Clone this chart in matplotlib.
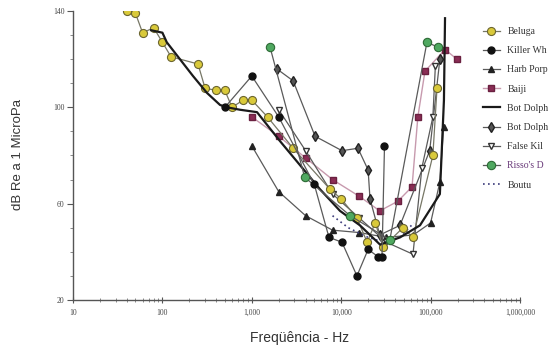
import numpy as np
import matplotlib
matplotlib.use("Agg")
import matplotlib.pyplot as plt
from matplotlib.ticker import FixedLocator, NullFormatter, LogLocator

# ── data ────────────────────────────────────────────────────────────────────

beluga_f = [40, 50, 60, 80, 100, 125, 250, 300, 400, 500, 600, 800, 1000,
            1500, 2900, 7500, 10000, 15000, 19500, 24000, 29500, 49000,
            63500, 106000, 118000]
beluga_db = [140, 139, 131, 133, 127, 121, 118, 108, 107, 107, 100, 103, 103,
             96, 83, 66, 62, 54, 44, 52, 42, 50, 46, 80, 108]

killer_f = [500, 1000, 2000, 5000, 7300, 10200, 15000, 20000, 25800, 28600,
            30500]
killer_db = [100, 113, 96, 68, 46, 44, 30, 41, 38, 38, 84]

porpoise_f = [1000, 2000, 4000, 8000, 16000, 32000, 64000, 100000, 127000,
              140000]
porpoise_db = [84, 65, 55, 49, 48, 46, 47, 52, 69, 92]

baiji_f = [1000, 2000, 4000, 8000, 16000, 27000, 43000, 62000, 72000, 86500,
           145000, 197000]
baiji_db = [96, 88, 79, 70, 63, 57, 61, 67, 96, 115, 124, 120]

botdolph_f = [75, 100, 112, 157, 220, 315, 441, 528, 738, 1143, 2065, 3460,
              5790, 9700, 16200, 27200, 45500, 76100, 127000, 141000, 145000]
botdolph_db = [132, 131, 127, 120, 113, 106, 101, 100, 99, 98, 86, 76, 66, 57,
               51, 43, 46, 51, 64, 103, 137]

botdolph2_f = [1900, 2900, 5100, 10200, 15400, 20000, 21000, 27000, 45500,
               97700, 127000]
botdolph2_db = [116, 111, 88, 82, 83, 74, 62, 47, 51, 82, 120]

falsekil_f = [2000, 4000, 8000, 16000, 32000, 63500, 80000, 106000, 113000]
falsekil_db = [99, 82, 64, 54, 44, 39, 75, 96, 117]

risso_f = [1600, 3900, 12600, 35000, 91000, 121000]
risso_db = [125, 71, 55, 45, 127, 125]

boutu_f = [8000, 12000, 20000, 30000, 45000, 65000]
boutu_db = [55, 50, 46, 44, 46, 52]

# legend labels as they appear (cut at the picture's right edge)
labels = ["Beluga", "Killer Wh", "Harb Porp", "Baiji", "Bot Dolph",
          "Bot Dolph", "False Kil", "Risso's D", "Boutu"]

xticks = [10, 100, 1000, 10000, 100000, 1000000]
xticklabels = ["10", "100", "1,000", "10,000", "100,000", "1,000,000"]
yticks = [20, 60, 100, 140]

# ── figure ──────────────────────────────────────────────────────────────────

fig = plt.figure(figsize=(5.59, 3.51), dpi=100)
ax = fig.add_axes([73 / 559, 1 - 300 / 351, (520 - 73) / 559, 289 / 351])

LINE = "#5a5a5a"
handles = []

h, = ax.plot(beluga_f, beluga_db, color="#777766", lw=0.9, marker="o", ms=5.8,
             mfc="#d9c93a", mec="#6b6530", mew=0.8, zorder=4)
handles.append(h)
h, = ax.plot(killer_f, killer_db, color=LINE, lw=0.9, marker="o", ms=5,
             mfc="#111111", mec="#111111", zorder=5)
handles.append(h)
h, = ax.plot(porpoise_f, porpoise_db, color=LINE, lw=0.9, marker="^", ms=4,
             mfc="#222222", mec="#222222", zorder=3)
handles.append(h)
h, = ax.plot(baiji_f, baiji_db, color="#c79aae", lw=1.0, marker="s", ms=4,
             mfc="#8a2d55", mec="#6a2040", zorder=3)
handles.append(h)
h, = ax.plot(botdolph_f, botdolph_db, color="#1a1a1a", lw=1.6, zorder=4)
handles.append(h)
h, = ax.plot(botdolph2_f, botdolph2_db, color=LINE, lw=0.9, marker="d", ms=5,
             mfc="#555555", mec="#222222", zorder=3)
handles.append(h)
h, = ax.plot(falsekil_f, falsekil_db, color=LINE, lw=0.9, marker="v", ms=5,
             mfc="white", mec="#333333", zorder=3)
handles.append(h)
h, = ax.plot(risso_f, risso_db, color=LINE, lw=0.9, marker="o", ms=6,
             mfc="#4fa860", mec="#2d6a35", mew=0.8, zorder=4)
handles.append(h)
h, = ax.plot(boutu_f, boutu_db, color="#3a3a7a", lw=1.2, ls=(0, (1, 2)),
             zorder=3)
handles.append(h)

ax.set_xscale("log")
ax.set_xlim(10, 1e6)
ax.set_ylim(20, 140)

ax.xaxis.set_major_locator(FixedLocator(xticks))
ax.set_xticklabels(xticklabels)
ax.xaxis.set_minor_locator(LogLocator(base=10, subs=np.arange(2, 10)))
ax.xaxis.set_minor_formatter(NullFormatter())
ax.set_yticks(yticks)
ax.yaxis.set_minor_locator(FixedLocator(np.arange(20, 141, 10)))

for s in ["top", "right"]:
    ax.spines[s].set_visible(False)
for s in ["left", "bottom"]:
    ax.spines[s].set_color("#555555")
    ax.spines[s].set_linewidth(1.0)

ax.tick_params(axis="x", which="major", direction="inout", length=5,
               width=0.8, color="#555555", pad=4)
ax.tick_params(axis="x", which="minor", direction="inout", length=3,
               width=0.6, color="#777777")
ax.tick_params(axis="y", which="major", direction="out", length=4,
               width=0.8, color="#555555", pad=2)
ax.tick_params(axis="y", which="minor", direction="out", length=2.5,
               width=0.6, color="#777777")
for t in ax.get_xticklabels() + ax.get_yticklabels():
    t.set_fontfamily("Liberation Serif")
    t.set_fontsize(5.5)
    t.set_color("#444444")

fig.text(18 / 559, 1 - 155 / 351, "dB Re a 1 MicroPa", rotation=90,
         ha="center", va="center", fontsize=9.5, color="#333333",
         family="Liberation Sans")
fig.text(300 / 559, 1 - 338 / 351, "Freqüência - Hz", ha="center",
         va="center", fontsize=10, color="#333333", family="Liberation Sans")

leg = ax.legend(handles, labels, loc="upper left",
                bbox_to_anchor=(483 / 559, 1 - 27 / 351),
                bbox_transform=fig.transFigure, frameon=False,
                prop={"family": "Liberation Serif", "size": 7},
                handlelength=1.7, handletextpad=0.8, labelspacing=1.05,
                borderaxespad=0, borderpad=0)
for t in leg.get_texts():
    t.set_color("#333333")
leg.get_texts()[7].set_color("#6a3a7a")

fig.savefig("out.png", dpi=100)
